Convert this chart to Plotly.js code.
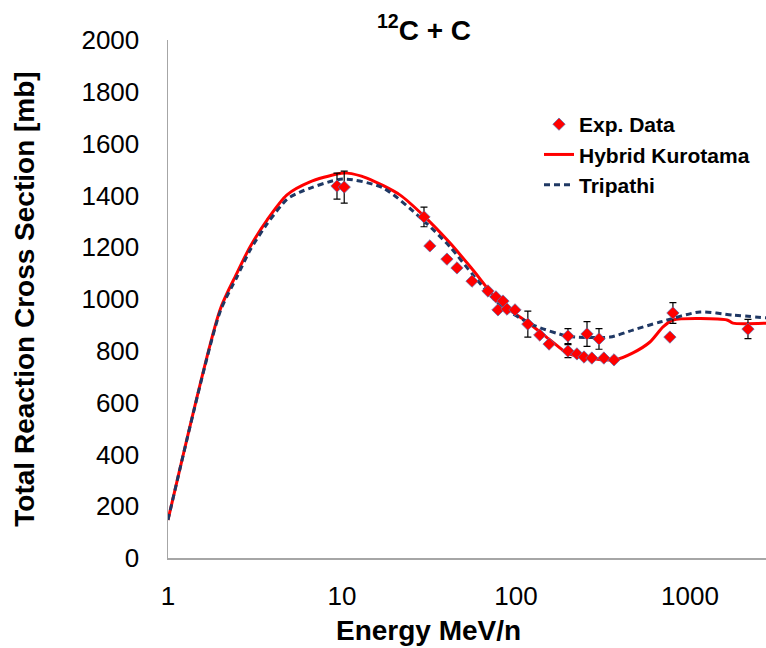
<!DOCTYPE html>
<html>
<head>
<meta charset="utf-8">
<script src="https://cdn.plot.ly/plotly-3.0.1.min.js"></script>
<style>html,body{margin:0;padding:0;background:#fff;}#chart{width:766px;height:648px;}</style>
</head>
<body>
<div id="chart"></div>
<script>
// Experimental data (Energy MeV/n, cross section mb, error mb)
const expEnergy = [9.36, 10.3, 29.6, 32.0, 40.1, 45.8, 55.9, 69.0, 76.7, 78.8, 84.2, 88.8, 98.7, 117, 137, 155, 199, 199, 224, 246, 256, 273, 300, 320, 366, 767, 798, 2155];
const expSigma  = [1436, 1432, 1317, 1205, 1154, 1120, 1069, 1031, 1008, 958, 992, 961, 958, 903, 861, 826, 857, 799, 788, 776, 865, 772, 846, 772, 765, 853, 946, 884];
const expError  = [50, 62, 38, 0, 0, 0, 0, 0, 0, 0, 0, 0, 0, 50, 0, 0, 29, 25, 0, 0, 48, 0, 40, 0, 0, 0, 40, 37];

// Hybrid Kurotama model
const kuroEnergy = [1, 1.99, 2.49, 2.96, 3.71, 4.83, 6.55, 9.36, 10.7, 13.9, 21.5, 29.2, 41.8, 56.6, 80.9, 116, 157, 196, 256, 371, 470, 589, 700, 798, 1632, 1767, 2770];
const kuroSigma  = [147, 958, 1100, 1201, 1305, 1402, 1452, 1483, 1486, 1467, 1402, 1324, 1216, 1112, 985, 911, 842, 792, 772, 765, 792, 834, 892, 919, 919, 907, 907];

// Tripathi model
const tripEnergy = [1, 1.99, 2.49, 2.96, 3.71, 4.83, 5.74, 10.1, 17.2, 29.2, 41.8, 56.6, 80.9, 125, 196, 224, 347, 470, 673, 1141, 1767, 2770];
const tripSigma  = [147, 950, 1085, 1188, 1290, 1385, 1413, 1463, 1429, 1305, 1201, 1093, 977, 900, 857, 853, 853, 880, 911, 950, 938, 927];

// Axis ticks
const xTicks = [1, 10, 100, 1000];
const xTickText = ['1', '10', '100', '1000'];
const yTicks = [0, 200, 400, 600, 800, 1000, 1200, 1400, 1600, 1800, 2000];

const FONT = 'Liberation Sans, Arial, sans-serif';

const traces = [
  {
    x: expEnergy, y: expSigma, type: 'scatter', mode: 'markers', name: 'Exp. Data',
    legendgroup: 'a', legendrank: 1,
    marker: {symbol: 'diamond', size: 9.5, color: '#FF0000', line: {color: 'rgba(95,110,170,0.75)', width: 1}},
    error_y: {type: 'data', array: expError, visible: true, color: '#000000', thickness: 1.2, width: 3.5}
  },
  {
    x: kuroEnergy, y: kuroSigma, type: 'scatter', mode: 'lines', name: 'Hybrid Kurotama',
    legendgroup: 'b', legendrank: 2,
    line: {color: '#FF0000', width: 3, shape: 'spline', smoothing: 0.7}
  },
  {
    x: tripEnergy, y: tripSigma, type: 'scatter', mode: 'lines', name: 'Tripathi',
    legendgroup: 'c', legendrank: 3,
    line: {color: '#1F3864', width: 3, dash: '6px,4px', shape: 'spline', smoothing: 0.7}
  }
];

// draw experimental points on top of the curves
const ordered = [traces[1], traces[2], traces[0]];

const layout = {
  width: 766, height: 648,
  margin: {l: 168, r: 0, t: 40, b: 90, pad: 0},
  paper_bgcolor: '#ffffff', plot_bgcolor: '#ffffff',
  font: {family: FONT, color: '#000000'},
  title: {
    text: '<b><sup>12</sup>C + C</b>',
    font: {family: FONT, size: 28, color: '#000000'},
    x: 424 / 766, xref: 'container', xanchor: 'center',
    y: 1 - 30 / 648, yref: 'container', yanchor: 'middle'
  },
  xaxis: {
    type: 'log', range: [0, 3.437],
    tickvals: xTicks, ticktext: xTickText,
    tickfont: {family: FONT, size: 26, color: '#000000'},
    ticks: '', showgrid: false, zeroline: false,
    showline: true, linecolor: '#A6A6A6', linewidth: 1.5,
    ticklabelstandoff: 14,
    automargin: false
  },
  yaxis: {
    range: [0, 2000],
    tickvals: yTicks,
    tickfont: {family: FONT, size: 26, color: '#000000'},
    ticks: '', showgrid: false, zeroline: false,
    showline: true, linecolor: '#A6A6A6', linewidth: 1.5,
    ticklabelstandoff: 22,
    automargin: false,
    title: {text: '<b>Total Reaction Cross Section [mb]</b>', font: {family: FONT, size: 28, color: '#000000'}, standoff: 38}
  },
  annotations: [{
    text: '<b>Energy MeV/n</b>', xref: 'paper', yref: 'paper',
    x: (428 - 168) / 598, y: -(630 - 558) / 518, xanchor: 'center', yanchor: 'middle',
    showarrow: false, font: {family: FONT, size: 28, color: '#000000'}
  }],
  showlegend: true,
  legend: {
    x: (539 - 168) / 598, y: (558 - 104) / 518, xanchor: 'left', yanchor: 'top',
    font: {family: FONT, size: 21, color: '#000000', weight: 'bold'},
    bgcolor: 'rgba(255,255,255,0)', borderwidth: 0,
    tracegroupgap: 3, traceorder: 'normal'
  }
};

Plotly.newPlot('chart', ordered, layout, {staticPlot: true, displayModeBar: false});
</script>
</body>
</html>
